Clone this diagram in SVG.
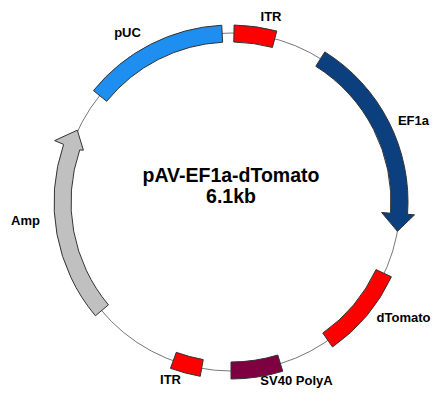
<svg xmlns="http://www.w3.org/2000/svg" width="442" height="401" viewBox="0 0 442 401">
<style>
.feat{stroke:#333;stroke-width:1;stroke-linejoin:miter}
.lbl{font-family:"Liberation Sans",Arial,sans-serif;font-weight:bold;font-size:13px;fill:#000;text-anchor:middle}
.title{font-family:"Liberation Sans",Arial,sans-serif;font-weight:bold;font-size:19.5px;fill:#000;text-anchor:middle}
</style>
<rect width="442" height="401" fill="#fff"/>
<g id="backbone">
<circle cx="231" cy="202" r="169" fill="none" stroke="#777" stroke-width="1"/>
</g>
<g id="title">
<text class="title" x="231" y="182">pAV-EF1a-dTomato</text>
<text class="title" x="231" y="203">6.1kb</text>
</g>
<g id="ITR-top">
<path class="feat" fill="#ff0000" d="M234.09,25.03 A177,177 0 0 1 276.81,31.03 L272.41,47.45 A160,160 0 0 0 233.79,42.02 Z"/>
<text class="lbl" x="271" y="21">ITR</text>
</g>
<g id="pUC">
<path class="feat" fill="#1e8ff0" d="M93.45,90.61 A177,177 0 0 1 221.74,25.24 L222.63,42.22 A160,160 0 0 0 106.66,101.31 Z"/>
<text class="lbl" x="127.5" y="37">pUC</text>
</g>
<g id="EF1a">
<path class="feat" fill="#0b3f7d" d="M324.80,51.90 A177,177 0 0 1 407.57,214.35 L414.55,214.84 L397.43,231.35 L381.63,212.53 L390.61,213.16 A160,160 0 0 0 315.79,66.31 Z"/>
<text class="lbl" x="413.5" y="125">EF1a</text>
</g>
<g id="dTomato">
<path class="feat" fill="#ff0000" d="M391.42,276.80 A177,177 0 0 1 332.52,346.99 L322.77,333.06 A160,160 0 0 0 376.01,269.62 Z"/>
<text class="lbl" x="403.5" y="321.5">dTomato</text>
</g>
<g id="SV40-PolyA">
<path class="feat" fill="#7f0040" d="M282.75,371.27 A177,177 0 0 1 231,379 L231,362 A160,160 0 0 0 277.78,355.01 Z"/>
<text class="lbl" x="296.5" y="385">SV40 PolyA</text>
</g>
<g id="ITR-bottom">
<path class="feat" fill="#ff0000" d="M200.26,376.31 A177,177 0 0 1 170.46,368.33 L176.28,352.35 A160,160 0 0 0 203.22,359.57 Z"/>
<text class="lbl" x="170.5" y="384">ITR</text>
</g>
<g id="Amp">
<path class="feat" fill="#c0c0c0" stroke="#555" d="M95.41,315.77 A177,177 0 0 1 63.64,144.37 L54.6,140.6 L77.3,130.2 L83.4,150.2 L79.72,149.91 A160,160 0 0 0 108.43,304.85 Z"/>
<text class="lbl" x="25.5" y="225">Amp</text>
</g>
</svg>
